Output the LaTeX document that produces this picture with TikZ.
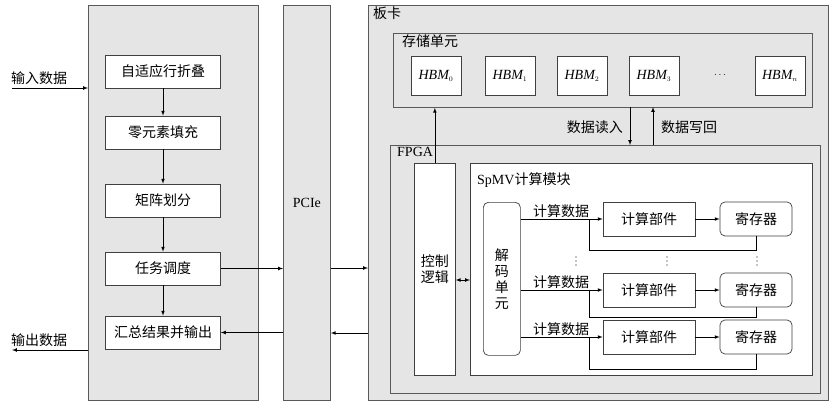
\documentclass[tikz,border=0pt]{standalone}
\usepackage{fontspec}
\setmainfont{Liberation Serif}
\newfontfamily\cjk{Noto Sans CJK SC}
\begin{document}
\begin{tikzpicture}[x=1pt,y=-1pt,
  panel/.style={draw=black!65,fill=black!10,line width=0.8pt},
  wbox/.style={draw=black!75,fill=white,line width=0.7pt,font=\cjk\fontsize{14}{16}\selectfont,align=center,inner sep=0pt},
  rbox/.style={wbox,rounded corners=5pt},
  arr/.style={-latex,line width=0.7pt},
  lbl/.style={font=\cjk\fontsize{14}{16}\selectfont,inner sep=1pt}]
\useasboundingbox (0,0) rectangle (837,412);
% left panel
\node[panel,minimum width=170pt,minimum height=395pt,anchor=north west] (lp) at (88,5) {};
\foreach \n/\t/\y in {b1/自适应行折叠/71.5,b2/零元素填充/132.5,b3/矩阵划分/200.5,b4/任务调度/268.5,b5/汇总结果并输出/332.5}
  \node[wbox,minimum width=115pt,minimum height=33pt] (\n) at (163,\y) {\t};
\draw[arr] (b1) -- (b2); \draw[arr] (b2) -- (b3); \draw[arr] (b3) -- (b4); \draw[arr] (b4) -- (b5);
\coordinate (inS) at (12,88); \coordinate (inE) at (lp.west |- 0,88);
\draw[arr] (inS) -- (inE);
\node[lbl,anchor=south west] (inl) at (10,86) {输入数据};
\coordinate (outS) at (lp.west |- 0,350); \coordinate (outE) at (12,350);
\draw[arr] (outS) -- (outE);
\node[lbl,anchor=south west] (outl) at (10,348) {输出数据};
% PCIe
\node[panel,minimum width=47pt,minimum height=395pt,anchor=north west,font=\fontsize{14}{16}\selectfont] (pcie) at (283,5) {PCIe};
\draw[arr] (b4.east) -- (b4.east -| pcie.west);
\draw[arr] (pcie.west |- b5.east) -- (b5.east);
% board
\node[panel,minimum width=460pt,minimum height=395pt,anchor=north west] (bd) at (368,5) {};
\node[lbl,anchor=north west] (bdl) at (372,6) {板卡};
\draw[arr] (pcie.east |- 0,268) -- (bd.west |- 0,268);
\draw[arr] (bd.west |- 0,333) -- (pcie.east |- 0,333);
% storage
\node[panel,minimum width=419pt,minimum height=74pt,anchor=north west] (st) at (393,33) {};
\node[lbl,anchor=north west] (stl) at (401,34) {存储单元};
\foreach \n/\x/\i in {h0/436/0,h1/510/1,h2/582/2,h3/654/3,hn/780/n}
  \node[wbox,minimum width=50pt,minimum height=39pt,font=\itshape\fontsize{14}{16}\selectfont] (\n) at (\x,75.5) {HBM$_{\scriptscriptstyle \i}$};
\node (hd) at (720,75.5) {$\cdots$};
% FPGA
\node[panel,minimum width=430pt,minimum height=248pt,anchor=north west] (fp) at (390,145) {};
\node[anchor=north west,inner sep=1pt,font=\fontsize{14}{16}\selectfont] (fpl) at (396,146) {FPGA};
\draw[arr] (630,107) -- (630,145);
\draw[arr] (653,145) -- (653,107);
\node[lbl,anchor=east] (rd) at (624,127) {数据读入};
\node[lbl,anchor=west] (wr) at (660,127) {数据写回};
\node[wbox,minimum width=41pt,minimum height=212pt,anchor=north west] (ctl) at (414,163) {控制\\逻辑};
\draw[arr] (ctl.north) -- (ctl.north |- st.south);
\node[wbox,minimum width=342pt,minimum height=212pt,anchor=north west] (sp) at (470,163) {};
\node[anchor=north west,inner sep=1pt,font=\fontsize{14}{16}\selectfont] (spl) at (476,171) {SpMV{\cjk 计算模块}};
\draw[latex-latex,line width=0.7pt] (ctl.east |- 0,280) -- (sp.west |- 0,280);
\node[rbox,minimum width=37pt,minimum height=153pt,anchor=north west] (dec) at (483,202) {解\\码\\单\\元};
\foreach \r/\y/\fb in {1/219/250,2/290/317,3/337/369}{
  \node[wbox,minimum width=92pt,minimum height=34pt] (c\r) at (649,\y) {计算部件};
  \node[rbox,minimum width=72pt,minimum height=34pt] (g\r) at (756,\y) {寄存器};
  \draw[arr] (dec.east |- c\r.west) -- (c\r.west);
  \draw[arr] (c\r) -- (g\r);
  \draw[line width=0.7pt] (g\r.south) -- (g\r.south |- 0,\fb) -- (589,\fb) -- (589,\y);
  \node[lbl,anchor=south] (t\r) at (561,\y) {计算数据};
}
\foreach \x in {576,667,757} \foreach \d in {257,261,265} \fill (\x,\d) circle (0.7pt);
\end{tikzpicture}
\end{document}
